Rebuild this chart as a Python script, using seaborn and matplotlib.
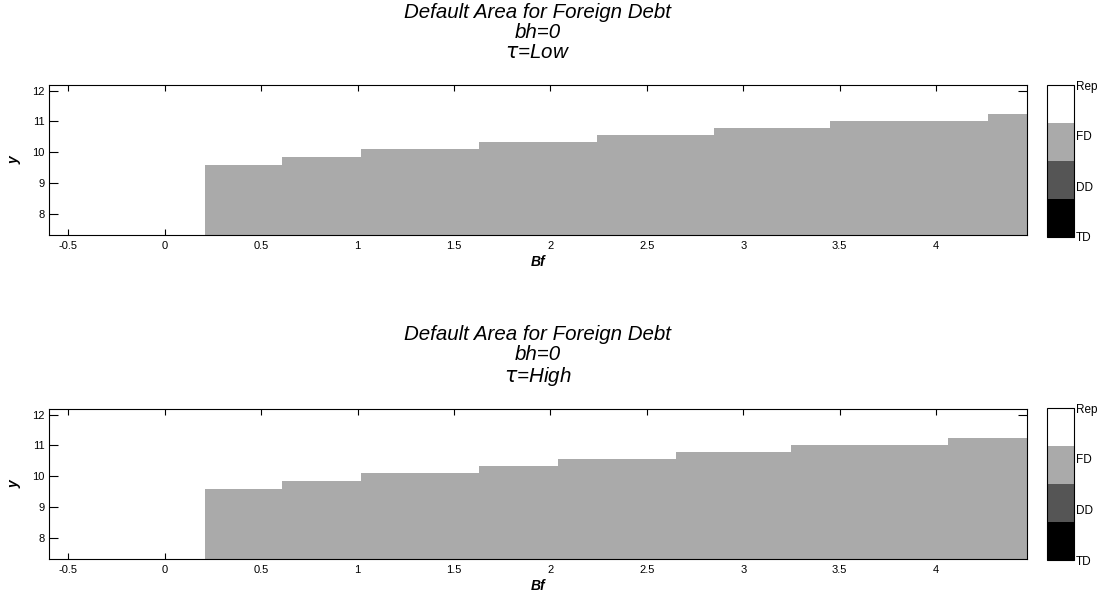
import numpy as np
import matplotlib
matplotlib.use("Agg")
import matplotlib.pyplot as plt
import matplotlib.colors as mcolors
import seaborn as sns

# Default regions: 1=TD, 2=DD, 3=FD, 4=Rep
region_labels = ['TD', 'DD', 'FD', 'Rep']
region_colors = ['#000000', '#555555', '#aaaaaa', '#ffffff']

# Foreign-default boundary (y threshold) over Bf, step edges per panel
bf_edges_low = [0.21, 0.61, 1.02, 1.63, 2.24, 2.85, 3.45, 4.27, 4.47]
bf_edges_high = [0.21, 0.61, 1.02, 1.63, 2.04, 2.65, 3.25, 4.06, 4.47]
y_threshold = [9.60, 9.86, 10.10, 10.33, 10.55, 10.78, 11.01, 11.24]

panels = [('Low', bf_edges_low), ('High', bf_edges_high)]

x_ticks = [-0.5, 0, 0.5, 1, 1.5, 2, 2.5, 3, 3.5, 4]
y_ticks = [8, 9, 10, 11, 12]
x_range = (-0.6, 4.47)
y_range = (7.32, 12.18)

sns.set_style("ticks")
plt.rcParams['font.family'] = ['Liberation Sans', 'DejaVu Sans']
plt.rcParams['text.color'] = 'black'
plt.rcParams['axes.labelcolor'] = 'black'

cmap = mcolors.ListedColormap(sns.color_palette(region_colors))
norm = mcolors.Normalize(vmin=1, vmax=4)

fig = plt.figure(figsize=(11.06, 6.03), dpi=100)
axes_pos = [[0.0443, 0.6103, 0.884, 0.2488], [0.0443, 0.0730, 0.884, 0.2488]]
cbar_pos = [[0.947, 0.607, 0.0244, 0.252], [0.947, 0.0713, 0.0244, 0.252]]

for (tau, edges), pos, cpos in zip(panels, axes_pos, cbar_pos):
    ax = fig.add_axes(pos)
    ax.set_facecolor(cmap(norm(4)))
    heights = y_threshold + [y_threshold[-1]]
    ax.fill_between(edges, y_range[0] - 1, heights, step='post',
                    color=cmap(norm(3)), linewidth=0)
    ax.set_xlim(*x_range)
    ax.set_ylim(*y_range)
    ax.set_xticks(x_ticks)
    ax.set_xticklabels(['%g' % t for t in x_ticks])
    ax.set_yticks(y_ticks)
    ax.tick_params(axis='x', direction='in', length=4.3, width=0.8,
                   top=True, bottom=True, labelsize=8, pad=4, colors='black')
    ax.tick_params(axis='y', direction='in', length=6.3, width=0.8,
                   left=True, right=True, labelsize=8, pad=3, colors='black')
    for s in ax.spines.values():
        s.set_visible(True)
        s.set_linewidth(0.8)
        s.set_color('black')
    ax.set_xlabel('Bf', fontsize=10, fontstyle='italic', fontweight='bold', labelpad=3)
    ax.set_ylabel('y', fontsize=10, fontstyle='italic', fontweight='bold', labelpad=8)
    ax.set_title('Default Area for Foreign Debt\nbh=0\n$\\tau$=' + tau,
                 fontsize=14.8, fontstyle='italic', linespacing=1.05, pad=19.5,
                 color='black')

    cax = fig.add_axes(cpos)
    sm = plt.cm.ScalarMappable(cmap=cmap, norm=norm)
    cb = fig.colorbar(sm, cax=cax, ticks=[1, 2, 3, 4])
    cb.ax.set_yticklabels(region_labels)
    cb.outline.set_linewidth(0.8)
    cb.outline.set_edgecolor('#000000')
    cax.tick_params(direction='in', length=2, width=0.6, left=True, right=True,
                    labelsize=8.5, pad=1, colors='black')

fig.savefig('out.png', dpi=100)
